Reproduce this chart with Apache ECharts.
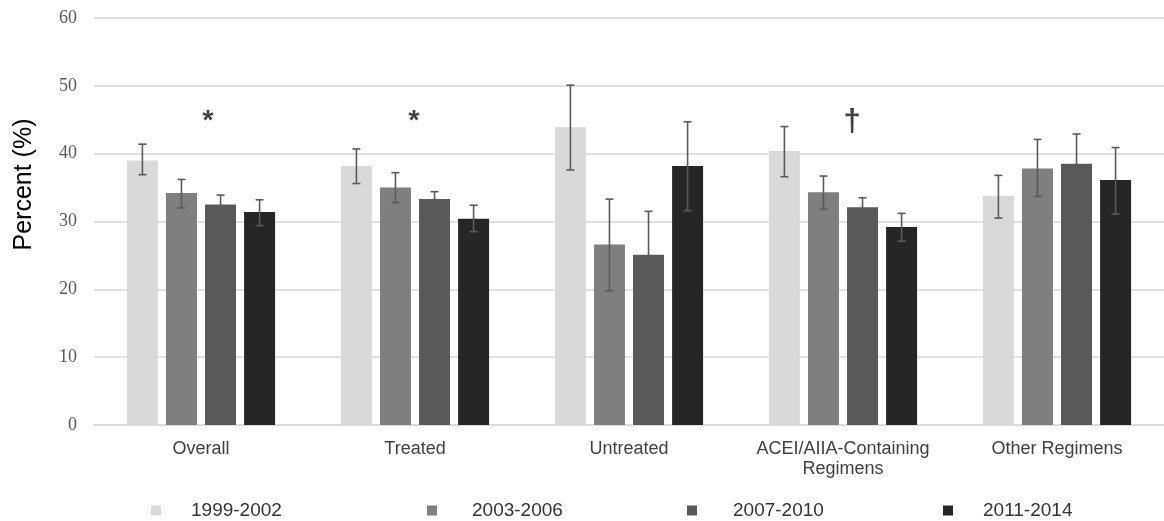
<!DOCTYPE html>
<html><head><meta charset="utf-8">
<script src="https://cdn.jsdelivr.net/npm/echarts@6/dist/echarts.min.js"></script>
<style>html,body{margin:0;padding:0;background:#fff}#c{width:1164px;height:521px}</style>
</head><body><div id="c"></div>
<script>
// ---- data ----
const categories = ['Overall', 'Treated', 'Untreated', 'ACEI/AIIA-Containing\nRegimens', 'Other Regimens'];
const seriesNames = ['1999-2002', '2003-2006', '2007-2010', '2011-2014'];
const yTicks = [0, 10, 20, 30, 40, 50, 60];

const v1999 = [39.0, 38.2, 43.9, 40.4, 33.8];
const v2003 = [34.2, 35.0, 26.6, 34.3, 37.8];
const v2007 = [32.5, 33.3, 25.1, 32.1, 38.5];
const v2011 = [31.4, 30.4, 38.2, 29.2, 36.1];

const lo1999 = [36.9, 35.6, 37.6, 36.6, 30.5];
const hi1999 = [41.4, 40.7, 50.1, 44.0, 36.8];
const lo2003 = [32.0, 32.8, 19.8, 31.8, 33.7];
const hi2003 = [36.2, 37.2, 33.3, 36.7, 42.1];
const lo2007 = [31.1, 32.2, 18.7, 30.7, 34.1];
const hi2007 = [33.9, 34.4, 31.5, 33.5, 42.9];
const lo2011 = [29.4, 28.5, 31.6, 27.1, 31.1];
const hi2011 = [33.2, 32.4, 44.7, 31.2, 40.9];

const annotCats = [0, 1, 3];
const annotMarks = ['*', '*', '\u2020'];
const annotY = [44.8, 44.8, 44.8];

// ---- styling ----
const values = [v1999, v2003, v2007, v2011];
const lows = [lo1999, lo2003, lo2007, lo2011];
const highs = [hi1999, hi2003, hi2007, hi2011];
const colors = ['#d9d9d9', '#7f7f7f', '#595959', '#262626'];
const BAR_W = 31, BAR_GAP = 0.26;
const SANS = '"Liberation Sans", Arial, sans-serif';
const SERIF = '"Liberation Serif", "Times New Roman", serif';

const chart = echarts.init(document.getElementById('c'), null, {renderer: 'canvas'});

const series = [];
seriesNames.forEach((name, i) => {
  series.push({
    name: name, type: 'bar', data: values[i], barWidth: BAR_W, barGap: (BAR_GAP * 100) + '%',
    itemStyle: {color: colors[i]}, z: 2
  });
});
seriesNames.forEach((name, i) => {
  const data = categories.map((c, k) => [k, lows[i][k], highs[i][k]]);
  series.push({
    type: 'custom', name: 'err' + i, z: 5, silent: true,
    data: data,
    renderItem: function (params, api) {
      const k = api.value(0);
      const lo = api.coord([k, api.value(1)]);
      const hi = api.coord([k, api.value(2)]);
      const off = (i - 1.5) * BAR_W * (1 + BAR_GAP);
      const x = lo[0] + off;
      const cap = 4;
      const st = {stroke: '#5a5a5a', lineWidth: 1.6};
      return {type: 'group', children: [
        {type: 'line', shape: {x1: x, y1: lo[1], x2: x, y2: hi[1]}, style: st},
        {type: 'line', shape: {x1: x - cap, y1: hi[1], x2: x + cap, y2: hi[1]}, style: st},
        {type: 'line', shape: {x1: x - cap, y1: lo[1], x2: x + cap, y2: lo[1]}, style: st}
      ]};
    }
  });
});
series.push({
  type: 'scatter', name: 'annot', symbolSize: 1, itemStyle: {color: 'transparent'}, z: 6, silent: true,
  data: annotCats.map((c, j) => ({
    value: [c, annotY[j]],
    label: {
      show: true, position: 'inside', formatter: annotMarks[j],
      fontFamily: SANS, fontWeight: 'bold', color: '#111',
      fontSize: annotMarks[j] === '*' ? 28 : 31,
      offset: [j === 0 ? 7 : (j === 2 ? 9 : -1), annotMarks[j] === '*' ? 0 : 1]
    }
  }))
});

const legendLefts = [151, 427, 687, 943];
const legendPads = [25, 30, 31, 25];
const legends = seriesNames.map((n, i) => ({
  data: [n], left: legendLefts[i], top: 501, padding: 0, icon: 'rect', itemWidth: 10, itemHeight: 10,
  selectedMode: false,
  textStyle: {fontFamily: SANS, fontSize: 19, color: '#333', padding: [0, 0, 0, legendPads[i]]}
}));

chart.setOption({
  animation: false,
  backgroundColor: '#fff',
  grid: {left: 94, top: 18, width: 1077, height: 407, containLabel: false},
  legend: legends,
  xAxis: {
    type: 'category', data: categories,
    axisLine: {show: true, lineStyle: {color: '#d9d9d9', width: 1.5}},
    axisTick: {show: false},
    axisLabel: {fontFamily: SANS, fontSize: 18, color: '#404040', margin: 14, lineHeight: 20, interval: 0}
  },
  yAxis: {
    type: 'value', min: yTicks[0], max: yTicks[yTicks.length - 1], interval: 10,
    name: 'Percent (%)', nameLocation: 'middle', nameGap: 57,
    nameTextStyle: {fontFamily: SANS, fontSize: 25, color: '#000', padding: [0, 0, 0, 74]},
    axisLine: {show: false}, axisTick: {show: false},
    axisLabel: {fontFamily: SERIF, fontSize: 18, color: '#595959', margin: 17},
    splitLine: {lineStyle: {color: '#d9d9d9', width: 1.5}}
  },
  series: series
});
</script></body></html>
